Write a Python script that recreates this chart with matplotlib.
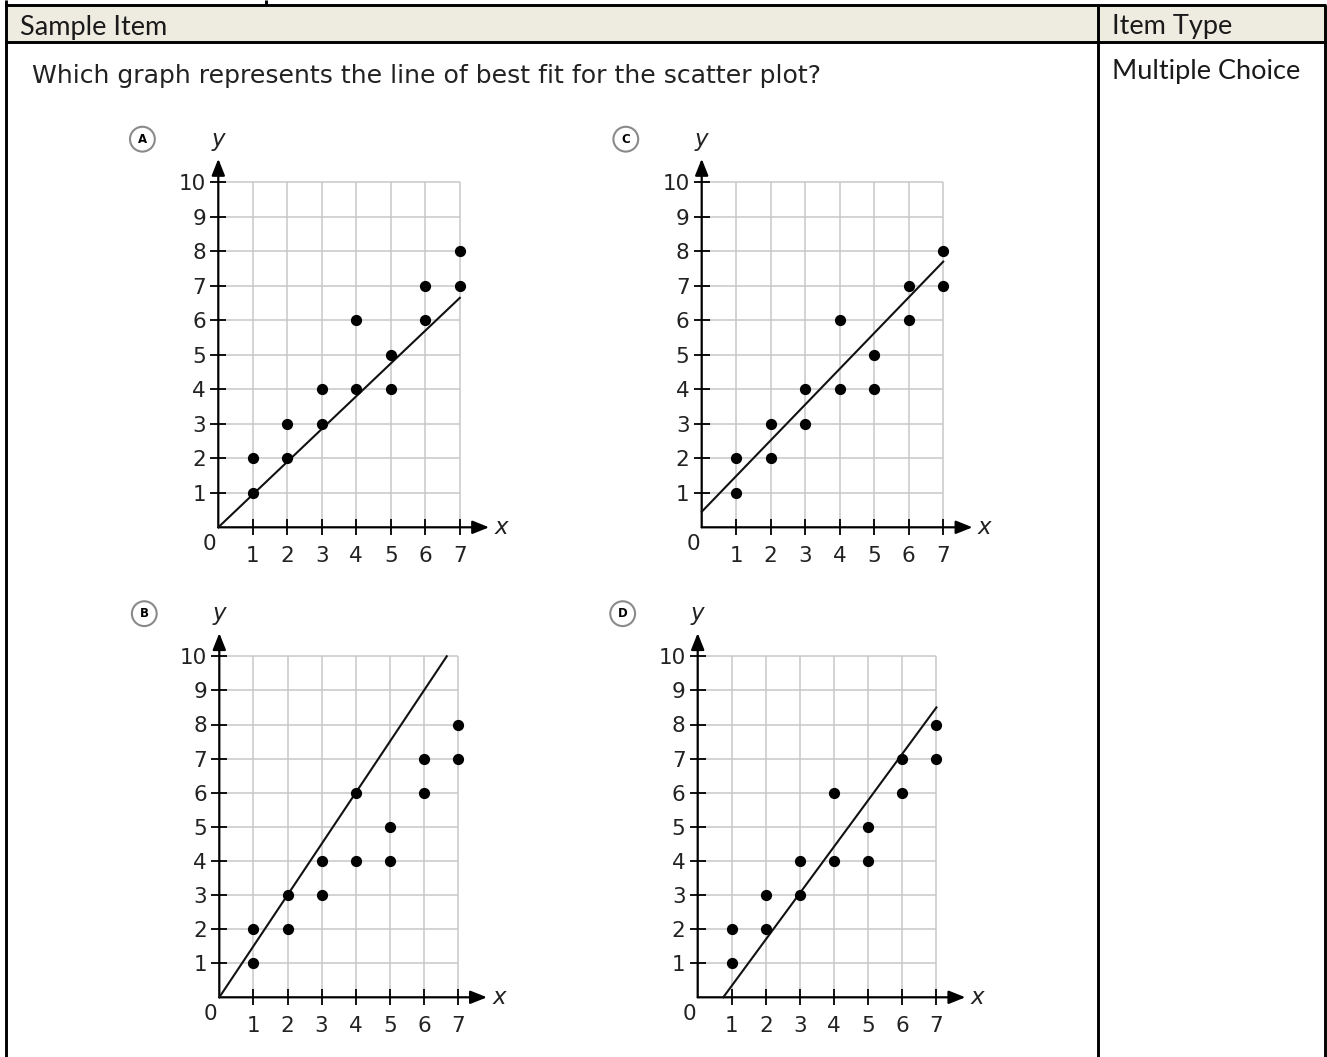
import matplotlib
matplotlib.use('Agg')
import matplotlib.pyplot as plt
import matplotlib.patches as mpatches

W, H = 1327, 1057

# scatter data, the same in all four graphs
point_x = [1, 1, 2, 2, 3, 3, 4, 4, 5, 5, 6, 6, 7, 7]
point_y = [1, 2, 2, 3, 3, 4, 4, 6, 4, 5, 6, 7, 7, 8]

# candidate lines (end points)
choices = ["A", "B", "C", "D"]
line_x = {"A": [0, 7], "B": [0, 6.67], "C": [0, 7], "D": [0.75, 7]}
line_y = {"A": [0, 6.65], "B": [0, 10], "C": [0.45, 7.7], "D": [0, 8.5]}

x_ticks = [1, 2, 3, 4, 5, 6, 7]
y_ticks = [1, 2, 3, 4, 5, 6, 7, 8, 9, 10]

question = "Which graph represents the line of best fit for the scatter plot?"
header_left = "Sample Item"
header_right = "Item Type"
item_type = "Multiple Choice"

# pixel position of each graph origin and size of one grid square
ORIGIN = {"A": (218.3, 527.3, 34.5), "C": (701.7, 527.3, 34.5),
          "B": (219.3, 997.3, 34.1), "D": (697.7, 997.3, 34.1)}
XLIM = (-2.8, 8.8)
YLIM = (-1.3, 11.8)
TXT = "#222222"
GRID = "#c8c8c8"

fig = plt.figure(figsize=(W / 100, H / 100), dpi=100)
fig.patch.set_facecolor("white")

# --- table frame -------------------------------------------------------
bg = fig.add_axes([0, 0, 1, 1])
bg.set_xlim(0, W)
bg.set_ylim(H, 0)
bg.axis("off")
bg.add_patch(mpatches.Rectangle((6, 5), 1319, 37, facecolor="#EEECE1",
                                edgecolor="none"))
frame = [
    ([5, 1326], [4.5, 4.5]),
    ([5, 1326], [42, 42]),
    ([6, 6], [0, H]),
    ([266, 266], [0, 4.5]),
    ([1098, 1098], [4.5, H]),
    ([1325, 1325], [4.5, H]),
]
for xs, ys in frame:
    bg.plot(xs, ys, color="black", lw=2.1, solid_capstyle="butt")

bg.text(20, 34.8, header_left, family="Lato", fontsize=19.5, color="#1a1a1a",
        va="baseline")
bg.text(1112, 34.0, header_right, family="Lato", fontsize=19.5,
        color="#1a1a1a", va="baseline")
bg.text(1112, 79.3, item_type, family="Lato", fontsize=19.5, color="#1a1a1a",
        va="baseline")
bg.text(32, 83.3, question, family="DejaVu Sans", fontsize=18.05, color=TXT,
        va="baseline")

# --- the four graphs ---------------------------------------------------
for ch in choices:
    ox, oy, u = ORIGIN[ch]
    left = (ox + XLIM[0] * u) / W
    bottom = 1 - (oy - YLIM[0] * u) / H
    ax = fig.add_axes([left, bottom, (XLIM[1] - XLIM[0]) * u / W,
                       (YLIM[1] - YLIM[0]) * u / H])
    ax.set_xlim(XLIM)
    ax.set_ylim(YLIM)
    ax.patch.set_alpha(0)
    for s in ax.spines.values():
        s.set_visible(False)

    # grid
    ax.vlines(x_ticks, 0, max(y_ticks), color=GRID, lw=1.1, zorder=1)
    ax.hlines(y_ticks, 0, max(x_ticks), color=GRID, lw=1.1, zorder=1)

    # axes with arrow heads
    arrow = dict(arrowstyle="-|>,head_length=0.5,head_width=0.2",
                 color="black", lw=1.6, shrinkA=0, shrinkB=0,
                 mutation_scale=20)
    ax.annotate("", xy=(0, 10.68), xytext=(0, 0), arrowprops=arrow, zorder=3)
    ax.annotate("", xy=(7.85, 0), xytext=(0, 0), arrowprops=arrow, zorder=3)

    ax.spines["left"].set_position(("data", 0))
    ax.spines["bottom"].set_position(("data", 0))
    ax.set_xticks(x_ticks)
    ax.set_yticks(y_ticks)
    ax.tick_params(direction="inout", length=11.5, width=1.3, color="black",
                   labelsize=15.5, labelcolor=TXT)
    ax.tick_params(axis="x", pad=7.5)
    ax.tick_params(axis="y", pad=3)

    ax.text(-0.25, -0.2, "0", fontsize=15.5, color=TXT, ha="center", va="top")
    ax.text(0, 11.25, "y", fontsize=16.5, style="italic", color=TXT,
            ha="center", va="center")
    ax.text(8.2, 0, "x", fontsize=16.5, style="italic", color=TXT,
            ha="center", va="center")
    ax.text(-2.2, 11.25, ch, fontsize=8.5, fontweight="bold", color="black",
            ha="center", va="center",
            bbox=dict(boxstyle="circle,pad=0.5", fc="white", ec="#8a8a8a",
                      lw=1.5))

    ax.scatter(point_x, point_y, s=50, color="black", zorder=4)
    ax.plot(line_x[ch], line_y[ch], color="#111111", lw=1.5, zorder=3)

fig.savefig("out.png", dpi=100, facecolor="white")
